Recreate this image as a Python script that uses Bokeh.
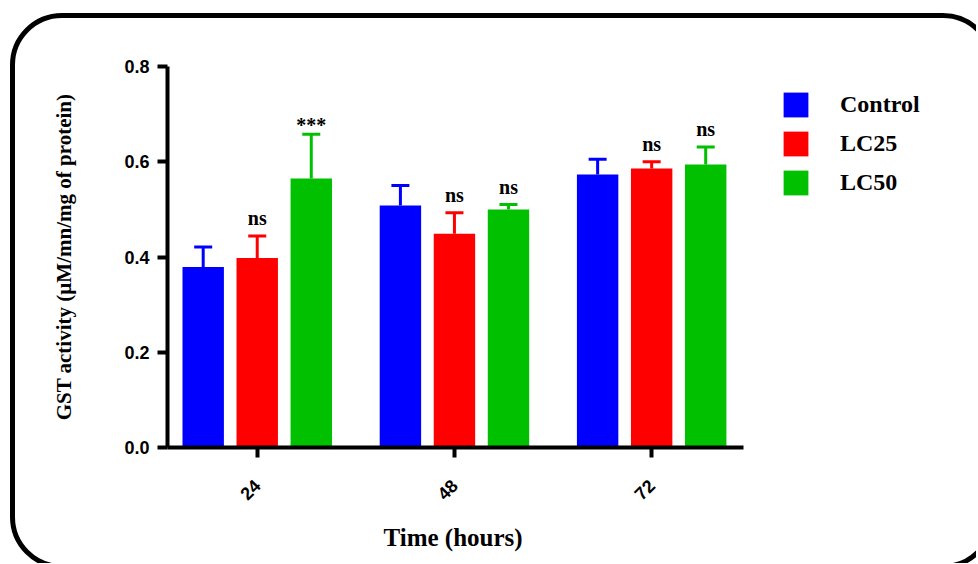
import math
from bokeh.plotting import figure
from bokeh.models import (ColumnDataSource, Range1d, FixedTicker, Whisker, TeeHead, Title,
                          Legend, LegendItem, PrintfTickFormatter, InlineStyleSheet)
from bokeh.core.properties import value
from bokeh.embed import file_html
from bokeh.resources import INLINE

# ---- data ----
categories = ["24", "48", "72"]
series = ["Control", "LC25", "LC50"]
colors = ["#0000FF", "#FF0000", "#00C000"]
control_mean = [0.379, 0.508, 0.573]
control_err = [0.042, 0.042, 0.032]
lc25_mean = [0.398, 0.449, 0.586]
lc25_err = [0.046, 0.044, 0.014]
lc50_mean = [0.565, 0.500, 0.594]
lc50_err = [0.093, 0.010, 0.037]
lc25_sig = ["ns", "ns", "ns"]
lc50_sig = ["***", "ns", "ns"]
y_ticks = [0.0, 0.2, 0.4, 0.6, 0.8]
x_title = "Time (hours)"
y_title = "GST activity (µM/mn/mg of protein)"

means = [control_mean, lc25_mean, lc50_mean]
errs = [control_err, lc25_err, lc50_err]
sigs = [None, lc25_sig, lc50_sig]

SERIF = "Liberation Serif"
SANS = "Liberation Sans"

x_lo, x_axis_hi, x_hi = -0.455, 2.466, 3.566

p = figure(width=976, height=563, output_backend="svg", toolbar_location=None,
           x_range=Range1d(x_lo, x_hi), y_range=Range1d(0, 0.8),
           min_border_left=167, min_border_right=16, min_border_top=66, min_border_bottom=116)
p.outline_line_color = None
p.xgrid.visible = False
p.ygrid.visible = False
p.background_fill_color = None
p.border_fill_color = None

offset = 0.274
bar_w = 0.21
legend_items = []
for j, (name, col) in enumerate(zip(series, colors)):
    xs = [i + (j - 1) * offset for i in range(len(categories))]
    up = [m + e for m, e in zip(means[j], errs[j])]
    src = ColumnDataSource(dict(x=xs, mean=means[j], upper=up))
    r = p.vbar(x="x", top="mean", width=bar_w, bottom=0, source=src,
               fill_color=col, line_color=None)
    legend_items.append(LegendItem(label=name, renderers=[r]))
    w = Whisker(base="x", lower="mean", upper="upper", source=src,
                line_color=col, line_width=3,
                upper_head=TeeHead(size=18, line_color=col, line_width=3),
                lower_head=None)
    p.add_layout(w)
    if sigs[j] is not None:
        labels = sigs[j]
        yoff = [-18 if s == "ns" else -9 for s in labels]
        tsrc = ColumnDataSource(dict(x=xs, y=up, t=labels, yo=yoff))
        p.text(x="x", y="y", text="t", y_offset="yo", source=tsrc,
               text_font=value(SERIF), text_font_style="bold", text_font_size="20px",
               text_align="center", text_baseline="alphabetic", text_color="black")

# axes
p.xaxis.ticker = FixedTicker(ticks=list(range(len(categories))))
p.xaxis.major_label_overrides = {i: c for i, c in enumerate(categories)}
p.xaxis.major_label_orientation = math.pi / 4
p.xaxis.bounds = (x_lo, x_axis_hi)
p.yaxis.ticker = FixedTicker(ticks=y_ticks)
p.yaxis.formatter = PrintfTickFormatter(format="%.1f")
for ax in (p.xaxis[0], p.yaxis[0]):
    ax.axis_line_width = 4
    ax.axis_line_color = "black"
    ax.major_tick_line_width = 4
    ax.major_tick_line_color = "black"
    ax.major_tick_out = 10
    ax.major_tick_in = 0
    ax.minor_tick_line_color = None
    ax.major_label_text_font = SANS
    ax.major_label_text_font_style = "bold"
    ax.major_label_text_font_size = "18px"
    ax.major_label_text_color = "black"
    ax.axis_label_text_font = SERIF
    ax.axis_label_text_font_style = "bold"
    ax.axis_label_text_color = "black"
p.xaxis.major_label_standoff = 25
p.yaxis.axis_label = y_title
p.yaxis.axis_label_text_font_size = "21px"
p.yaxis.axis_label_standoff = 45
p.yaxis.major_label_standoff = 8

# x-axis title, centred under the drawn axis (not under the wider frame)
p.add_layout(Title(text=x_title, align="left", offset=216, standoff=26,
                   text_font=SERIF, text_font_style="bold", text_font_size="25px",
                   text_color="black"), "below")

legend = Legend(items=legend_items, location=(613, 249),
                glyph_width=31, glyph_height=31, label_standoff=29, spacing=8,
                padding=0, margin=0, border_line_color=None, background_fill_color=None,
                label_text_font=SERIF, label_text_font_style="bold",
                label_text_font_size="24px", label_text_color="black")
p.add_layout(legend, "center")

# rounded outer frame of the figure panel
p.stylesheets = [InlineStyleSheet(css="""
:host { position: relative; overflow: hidden; }
:host::after {
  content: ""; position: absolute; left: 10px; top: 13px;
  width: 985px; height: 556px; box-sizing: border-box;
  border: 5px solid black; border-radius: 52px;
  pointer-events: none; z-index: 10;
}
""")]

open("out.html", "w").write(file_html(p, INLINE))
